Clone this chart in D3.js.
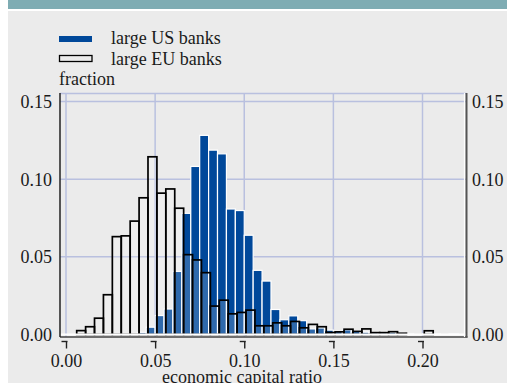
<!DOCTYPE html>
<html>
<head>
<meta charset="utf-8">
<script src="https://cdn.jsdelivr.net/npm/d3@7"></script>
<style>
  html, body { margin: 0; padding: 0; background: #fff; }
  svg { display: block; }
  text { font-family: "Liberation Serif", "Times New Roman", serif; fill: #1a1a1a; }
</style>
</head>
<body>
<svg id="chart" width="507" height="383"></svg>
<script>
// Histogram bins are 0.005 wide; each array holds bin start -> fraction of banks.
const binWidth = 0.005;

const usBinStarts = [0.040, 0.045, 0.050, 0.055, 0.060, 0.065, 0.070, 0.075, 0.080, 0.085,
  0.090, 0.095, 0.100, 0.105, 0.110, 0.115, 0.120, 0.125, 0.130, 0.135,
  0.140, 0.145, 0.150, 0.155, 0.160, 0.165, 0.170, 0.175, 0.180, 0.185,
  0.190, 0.200, 0.205, 0.215];
const usFractions = [0.0014, 0.0047, 0.0122, 0.0164, 0.0406, 0.0780, 0.1082, 0.1282, 0.1187, 0.1163,
  0.0808, 0.0798, 0.0639, 0.0413, 0.0344, 0.0161, 0.0095, 0.0120, 0.0089, 0.0036,
  0.0042, 0.0028, 0.0021, 0.0030, 0.0020, 0.0015, 0.0012, 0.0012, 0.0015, 0.0013,
  0.0004, 0.0004, 0.0004, 0.0004];

const euBinStarts = [0.006, 0.011, 0.016, 0.021, 0.026, 0.031, 0.036, 0.041, 0.046, 0.051,
  0.056, 0.061, 0.066, 0.071, 0.076, 0.081, 0.086, 0.091, 0.096, 0.101,
  0.106, 0.111, 0.116, 0.121, 0.126, 0.131, 0.136, 0.141, 0.146, 0.151,
  0.156, 0.161, 0.166, 0.171, 0.176, 0.181, 0.186, 0.201];
const euFractions = [0.0025, 0.0050, 0.0105, 0.0256, 0.0630, 0.0635, 0.0730, 0.0880, 0.1144, 0.0910,
  0.0937, 0.0813, 0.0514, 0.0480, 0.0398, 0.0183, 0.0221, 0.0133, 0.0142, 0.0157,
  0.0056, 0.0056, 0.0075, 0.0056, 0.0084, 0.0043, 0.0065, 0.0050, 0.0013, 0.0017,
  0.0034, 0.0020, 0.0036, 0.0012, 0.0012, 0.0018, 0.0008, 0.0024];

const xTicks = [0.00, 0.05, 0.10, 0.15, 0.20];
const yTicks = [0.00, 0.05, 0.10, 0.15];
const seriesNames = ["large US banks", "large EU banks"];
const yTitle = "fraction";
const xTitle = "economic capital ratio";

const usBlue = "#00489a";
const svg = d3.select("#chart");

// page background, banner strip
svg.append("rect").attr("x", 8).attr("y", 0).attr("width", 499).attr("height", 383).attr("fill", "#ebebeb");
svg.append("rect").attr("x", 8).attr("y", 0).attr("width", 499).attr("height", 9).attr("fill", "#7eacb3");
svg.append("rect").attr("x", 8).attr("y", 9).attr("width", 499).attr("height", 2).attr("fill", "#ffffff");

// plot frame
const plot = { left: 60, right: 466.5, top: 93, bottom: 337 };
const x = d3.scaleLinear().domain([0, 0.20]).range([66, 422.5]);
const y = d3.scaleLinear().domain([0, 0.15]).range([334.5, 101.5]);

const grid = svg.append("g").attr("stroke", "#b9c0df");
grid.selectAll("line.v").data(xTicks).join("line")
  .attr("x1", d => x(d)).attr("x2", d => x(d))
  .attr("y1", plot.top).attr("y2", plot.bottom)
  .attr("stroke-width", 1.5);
grid.selectAll("line.h").data(yTicks.filter(d => d > 0)).join("line")
  .attr("x1", plot.left).attr("x2", plot.right)
  .attr("y1", d => y(d)).attr("y2", d => y(d))
  .attr("stroke-width", 1.5);
grid.append("line")
  .attr("x1", plot.left).attr("x2", plot.right)
  .attr("y1", plot.top + 0.5).attr("y2", plot.top + 0.5)
  .attr("stroke-width", 1.5);

// US histogram: solid blue bars with white edges
const usData = usBinStarts.map((s, i) => ({ s, v: usFractions[i] }));
svg.append("g").selectAll("rect").data(usData).join("rect")
  .attr("x", d => x(d.s))
  .attr("width", d => x(d.s + binWidth) - x(d.s))
  .attr("y", d => y(d.v))
  .attr("height", d => y(0) - y(d.v))
  .attr("fill", usBlue)
  .attr("stroke", "#ffffff")
  .attr("stroke-width", 1.2);

// EU histogram: open black outlines drawn over the US bars
const euData = euBinStarts.map((s, i) => ({ s, v: euFractions[i] }));
svg.append("g").selectAll("rect").data(euData).join("rect")
  .attr("x", d => x(d.s))
  .attr("width", d => x(d.s + binWidth) - x(d.s))
  .attr("y", d => y(d.v))
  .attr("height", d => y(0) - y(d.v))
  .attr("fill", "#ffffff")
  .attr("fill-opacity", 0.18)
  .attr("stroke", "#000000")
  .attr("stroke-width", 1.7);

// baseline and frame edges
svg.append("line").attr("x1", plot.left).attr("x2", plot.right)
  .attr("y1", y(0)).attr("y2", y(0)).attr("stroke", "#ffffff").attr("stroke-width", 2);
svg.append("line").attr("x1", plot.left).attr("x2", plot.right + 1)
  .attr("y1", plot.bottom).attr("y2", plot.bottom).attr("stroke", "#444").attr("stroke-width", 1.3);
svg.append("line").attr("x1", plot.left).attr("x2", plot.left)
  .attr("y1", plot.top).attr("y2", plot.bottom).attr("stroke", "#222").attr("stroke-width", 1.5);
svg.append("line").attr("x1", plot.right - 2).attr("x2", plot.right - 2)
  .attr("y1", plot.top).attr("y2", plot.bottom).attr("stroke", "#ffffff").attr("stroke-width", 1.2);
svg.append("line").attr("x1", plot.right).attr("x2", plot.right)
  .attr("y1", plot.top).attr("y2", plot.bottom + 0.6).attr("stroke", "#555").attr("stroke-width", 2);

// x axis below the frame
const xAxis = svg.append("g").attr("transform", "translate(0,341.5)")
  .call(d3.axisBottom(x).tickValues(xTicks).tickSize(7).tickPadding(5).tickFormat(d3.format(".2f")));
xAxis.select(".domain").remove();
xAxis.selectAll(".tick line").attr("stroke", "#222").attr("stroke-width", 1.4);
xAxis.selectAll(".tick").append("line")
  .attr("x1", -5).attr("x2", 1).attr("y1", 0).attr("y2", 0)
  .attr("stroke", "#222").attr("stroke-width", 1.4);
xAxis.selectAll(".tick text")
  .attr("font-family", "Liberation Serif").attr("font-size", 18).attr("fill", "#1a1a1a")
  .attr("dy", null).attr("y", 25.5);

// y labels on both sides
const yLeft = svg.append("g").attr("transform", `translate(${plot.left},0)`)
  .call(d3.axisLeft(y).tickValues(yTicks).tickSize(0).tickPadding(8).tickFormat(d3.format(".2f")));
yLeft.select(".domain").remove();
yLeft.selectAll(".tick text").attr("font-family", "Liberation Serif").attr("font-size", 18)
  .attr("fill", "#1a1a1a").attr("dy", "0.33em");
const yRight = svg.append("g").attr("transform", `translate(${plot.right},0)`)
  .call(d3.axisRight(y).tickValues(yTicks).tickSize(0).tickPadding(5.5).tickFormat(d3.format(".2f")));
yRight.select(".domain").remove();
yRight.selectAll(".tick text").attr("font-family", "Liberation Serif").attr("font-size", 18)
  .attr("fill", "#1a1a1a").attr("dy", "0.33em");

// legend
svg.append("rect").attr("x", 59).attr("y", 36).attr("width", 33).attr("height", 6).attr("fill", usBlue);
svg.append("rect").attr("x", 59.5).attr("y", 55.5).attr("width", 32.5).attr("height", 6)
  .attr("fill", "none").attr("stroke", "#000").attr("stroke-width", 1.3);
svg.append("text").attr("x", 111).attr("y", 43.5).attr("font-size", 18).text(seriesNames[0]);
svg.append("text").attr("x", 111).attr("y", 64.5).attr("font-size", 18).text(seriesNames[1]);
svg.append("text").attr("x", 59).attr("y", 84.5).attr("font-size", 18).text(yTitle);

// x title
svg.append("text").attr("x", 242).attr("y", 383).attr("text-anchor", "middle")
  .attr("font-size", 18).text(xTitle);
</script>
</body>
</html>
